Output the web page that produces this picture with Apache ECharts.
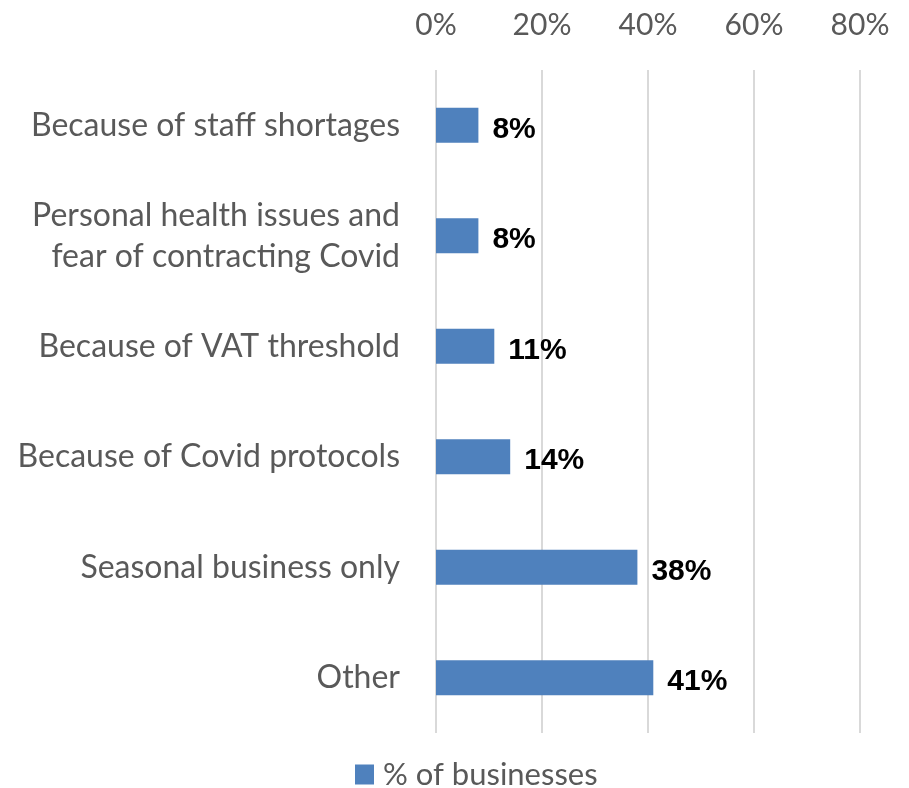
<!DOCTYPE html>
<html>
<head>
<meta charset="utf-8">
<script src="https://cdn.jsdelivr.net/npm/echarts@6/dist/echarts.min.js"></script>
<style>
  html, body { margin: 0; padding: 0; background: #ffffff; }
  #chart { width: 909px; height: 788px; }
</style>
</head>
<body>
<div id="chart"></div>
<script>
// Reasons for businesses not reopening (share of businesses, %)
const categories = [
  'Because of staff shortages',
  'Personal health issues and\nfear of contracting Covid',
  'Because of VAT threshold',
  'Because of Covid protocols',
  'Seasonal business only',
  'Other'
];
const shareOfBusinesses = [8, 8, 11, 14, 38, 41];
const seriesName = '% of businesses';
const axisMin = 0;
const axisMax = 80;
const axisStep = 20;

const FONT = 'Lato, "Liberation Sans", Arial, sans-serif';
const LABEL_FONT = '"Liberation Sans", Arial, sans-serif';
const GREY = '#595959';

const chart = echarts.init(document.getElementById('chart'), null, { renderer: 'canvas' });

chart.setOption({
  backgroundColor: '#ffffff',
  animation: false,
  textStyle: { fontFamily: FONT },
  grid: { left: 436, right: 49, top: 70, bottom: 55, containLabel: false },
  legend: {
    data: [seriesName],
    left: 350,
    top: 754,
    icon: 'rect',
    itemWidth: 19,
    itemHeight: 20,
    itemGap: 10,
    textStyle: { fontFamily: FONT, fontSize: 31, color: GREY, padding: [0, 0, 0, 4] }
  },
  xAxis: {
    type: 'value',
    position: 'top',
    min: axisMin,
    max: axisMax,
    interval: axisStep,
    axisLine: { show: false },
    axisTick: { show: false },
    axisLabel: {
      formatter: '{value}%',
      fontFamily: FONT,
      fontSize: 30,
      color: GREY,
      margin: 30
    },
    splitLine: { show: true, lineStyle: { color: '#d9d9d9', width: 2 } }
  },
  yAxis: {
    type: 'category',
    data: categories,
    inverse: true,
    axisLine: { show: false },
    axisTick: { show: false },
    axisLabel: {
      fontFamily: FONT,
      fontSize: 32,
      color: GREY,
      margin: 36,
      lineHeight: 41
    }
  },
  series: [{
    name: seriesName,
    type: 'bar',
    data: shareOfBusinesses,
    barWidth: 35,
    itemStyle: { color: '#4f81bd' },
    label: {
      show: true,
      position: 'right',
      distance: 14,
      offset: [0, 4],
      formatter: '{c}%',
      fontFamily: LABEL_FONT,
      fontSize: 30,
      fontWeight: 'bold',
      color: '#000000'
    }
  }]
});
</script>
</body>
</html>
